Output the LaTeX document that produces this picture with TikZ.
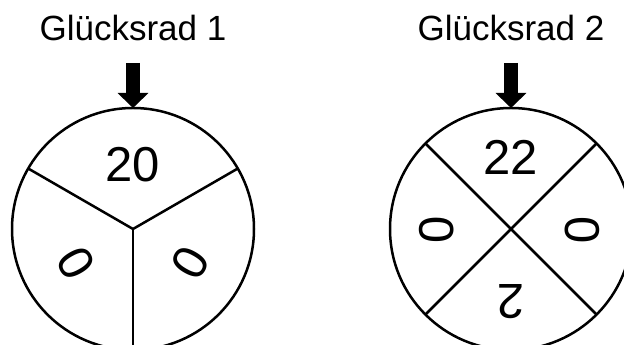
\documentclass[tikz,border=0pt]{standalone}
\usepackage{fontspec}
\setmainfont{Liberation Sans}
\usetikzlibrary{arrows.meta}
\begin{document}
\begin{tikzpicture}[x=1pt,y=1pt,
  wheel/.style={circle,draw,line width=2.5pt,minimum size=242pt,inner sep=0pt,outer sep=0pt},
  spoke/.style={line width=2.5pt},
  title/.style={font=\fontsize{35}{42}\selectfont,anchor=base},
  num/.style={font=\fontsize{49}{58}\selectfont,inner sep=0pt},
  pointer/.style={line width=14pt,-{Triangle[width=30pt,length=15pt]},shorten >=0pt}]
\useasboundingbox (0,0) rectangle (624,345);
% Wheel 1
\node[wheel] (w1) at (133,116) {};
\node[title] (t1) at (133,304) {Glücksrad 1};
\coordinate (p1) at (133,282);
\draw[pointer] (p1) -- (w1.north);
\draw[spoke] (w1.center) -- (w1.150);
\draw[spoke] (w1.center) -- (w1.30);
\draw[spoke] (w1.center) -- (w1.270);
\node[num] (a1) at (133,180) {20};
\node[num,rotate=120] (a2) at (76,82) {0};
\node[num,rotate=-120] (a3) at (190,82) {0};
% Wheel 2
\node[wheel] (w2) at (511,116) {};
\node[title] (t2) at (511,304) {Glücksrad 2};
\coordinate (p2) at (511,282);
\draw[pointer] (p2) -- (w2.north);
\draw[spoke] (w2.45) -- (w2.225);
\draw[spoke] (w2.135) -- (w2.315);
\node[num] (b1) at (511,188) {22};
\node[num,rotate=90] (b2) at (437,115) {0};
\node[num,rotate=-90] (b3) at (582,115) {0};
\node[num,rotate=180] (b4) at (511,43) {2};
\end{tikzpicture}
\end{document}
